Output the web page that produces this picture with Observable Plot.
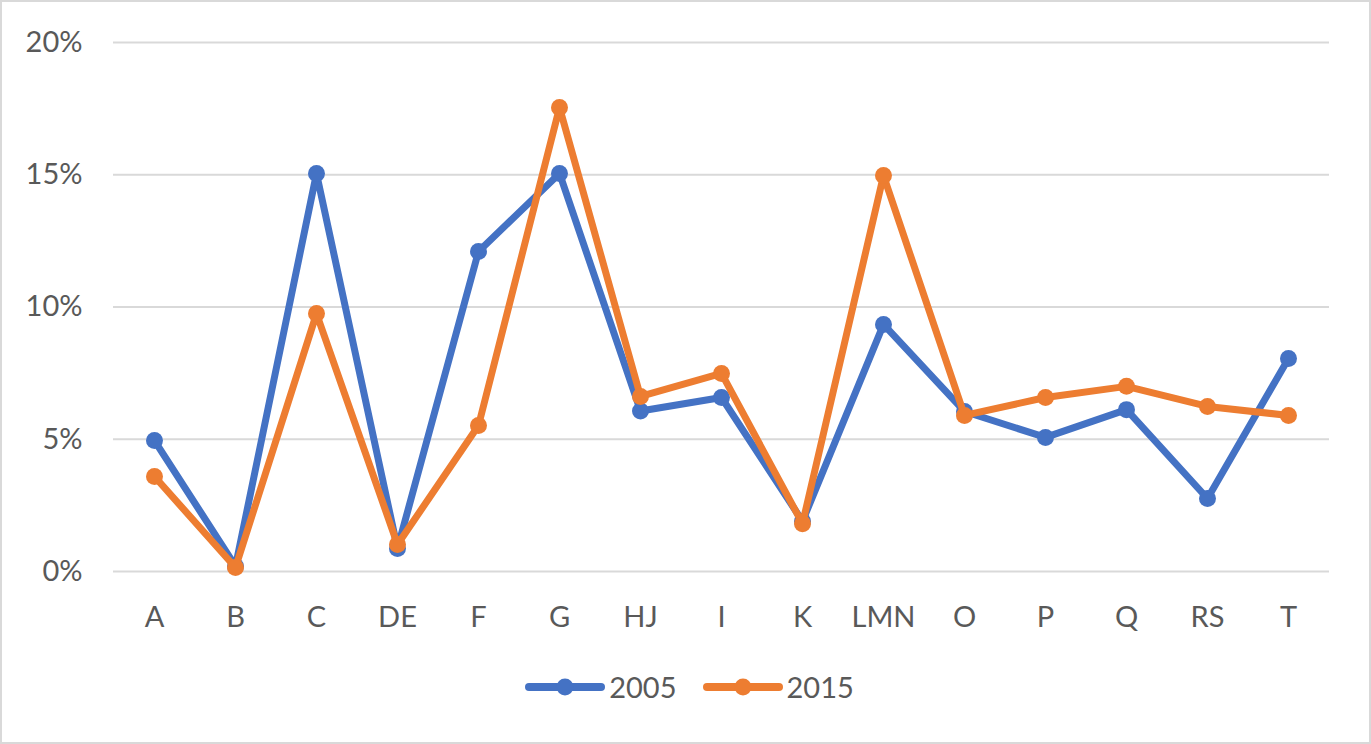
<!DOCTYPE html>
<html>
<head>
<meta charset="utf-8">
<script src="https://cdn.jsdelivr.net/npm/d3@7"></script>
<script src="https://cdn.jsdelivr.net/npm/@observablehq/plot@0.6"></script>
<style>
  html, body { margin: 0; padding: 0; background: #fff; }
  #wrap { position: relative; width: 1371px; height: 744px; overflow: hidden; font-family: Lato, "Open Sans", sans-serif; }
  #frame { position: absolute; left: 0; top: 0; width: 1371px; height: 744px; box-sizing: border-box; border: 2px solid #d9d9d9; pointer-events: none; }
  #chart { position: absolute; left: 0; top: 0; }
  #legend { position: absolute; left: 4px; width: 1371px; top: 669px; display: flex; justify-content: center; align-items: center; gap: 0; color: #595959; font-size: 29px; }
  .item { display: flex; align-items: center; margin: 0 13px; }
  .item svg { margin-right: 4px; }
</style>
</head>
<body>
<div id="wrap">
  <div id="chart"></div>
  <div id="legend"></div>
  <div id="frame"></div>
</div>
<script>
const categories = ["A","B","C","DE","F","G","HJ","I","K","LMN","O","P","Q","RS","T"];
const values2005 = [4.95, 0.2, 15.05, 0.87, 12.1, 15.05, 6.07, 6.58, 1.9, 9.34, 6.05, 5.07, 6.12, 2.76, 8.05];
const values2015 = [3.59, 0.15, 9.75, 1.02, 5.52, 17.54, 6.62, 7.49, 1.81, 14.97, 5.9, 6.58, 7.0, 6.24, 5.9];
const seriesNames = ["2005", "2015"];
const seriesColors = ["#4472C4", "#ED7D31"];
const yTicks = [0, 5, 10, 15, 20];

const rows = [];
[values2005, values2015].forEach((vals, s) => {
  vals.forEach((v, i) => rows.push({cat: categories[i], value: v, series: seriesNames[s]}));
});

const marks = [
  Plot.ruleY(yTicks, {stroke: "#d9d9d9", strokeWidth: 2})
];
seriesNames.forEach((name, s) => {
  const d = rows.filter(r => r.series === name);
  marks.push(Plot.line(d, {x: "cat", y: "value", stroke: seriesColors[s], strokeWidth: 7, strokeLinejoin: "round", strokeLinecap: "round"}));
  marks.push(Plot.dot(d, {x: "cat", y: "value", fill: seriesColors[s], r: 8.5, stroke: "none"}));
});

const plot = Plot.plot({
  width: 1371,
  height: 650,
  marginLeft: 113,
  marginRight: 42,
  marginTop: 42,
  marginBottom: 79,
  style: {fontFamily: "Lato, 'Open Sans', sans-serif", fontSize: "29px", color: "#595959", background: "transparent"},
  x: {type: "point", domain: categories, padding: 0.5, label: null, tickSize: 0, tickPadding: 35},
  y: {domain: [0, 20], ticks: yTicks, tickFormat: d => d + "%", label: null, tickSize: 0, tickPadding: 31},
  marks
});
document.getElementById("chart").appendChild(plot);

const legend = document.getElementById("legend");
seriesNames.forEach((name, s) => {
  const item = document.createElement("div");
  item.className = "item";
  item.innerHTML = `<svg width="80" height="20"><line x1="4" y1="10" x2="76" y2="10" stroke="${seriesColors[s]}" stroke-width="8" stroke-linecap="round"/><circle cx="40" cy="10" r="8.5" fill="${seriesColors[s]}"/></svg><span>${name}</span>`;
  legend.appendChild(item);
});
</script>
</body>
</html>
